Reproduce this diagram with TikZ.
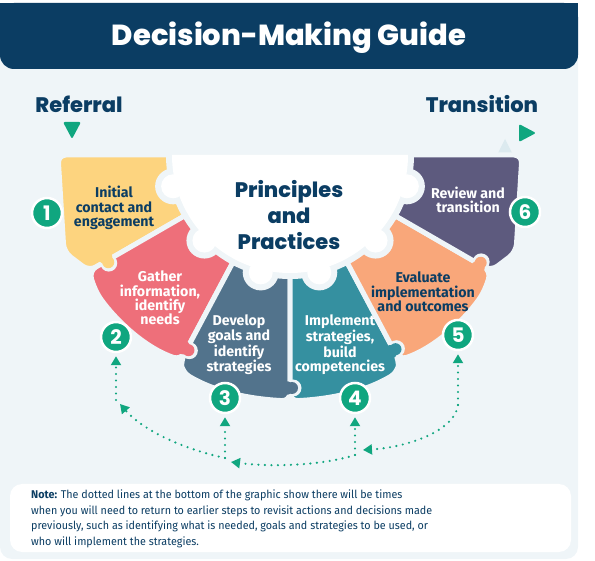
\documentclass[tikz,border=0pt]{standalone}
\usepackage{fontspec}
\setmainfont{Fira Sans}
\newfontfamily\notefont{Fira Sans}[FakeStretch=0.96]
\newfontfamily\popxb{Poppins ExtraBold}
\newfontfamily\popb{Poppins Bold}
\usetikzlibrary{arrows.meta,calc}
\definecolor{bg}{HTML}{EFF5F8}
\definecolor{hdr}{HTML}{0B3D63}
\definecolor{txtd}{HTML}{0B3D63}
\definecolor{grn}{HTML}{10A67F}
\definecolor{c1}{HTML}{FDD47F}
\definecolor{c2}{HTML}{EE6F7A}
\definecolor{c3}{HTML}{52738C}
\definecolor{c4}{HTML}{3590A0}
\definecolor{c5}{HTML}{F9A77A}
\definecolor{c6}{HTML}{5D5A7E}
\definecolor{faint}{HTML}{DCEAEF}
\begin{document}
\begin{tikzpicture}[x=1pt,y=-1pt,
  seg/.style={draw=bg, line width=5pt, rounded corners=8pt},
  lbl/.style={align=center, inner sep=0pt, font=\bfseries\fontsize{14.2}{14.4}\selectfont},
  num/.style={circle, fill=grn, draw=white, line width=2.5pt, minimum size=30pt, inner sep=0pt, text=white, font=\popb\fontsize{20}{20}\selectfont},
  dots/.style={grn, line width=2.4pt, line cap=round, dash pattern=on 0pt off 6.5pt, -{Triangle[length=9pt,width=10pt]}, shorten >=3pt}
]
\useasboundingbox (0,0) rectangle (595,561);
% panel
\fill[bg, rounded corners=12pt] (0,3) rectangle (578,559);
% header
\fill[hdr, rounded corners=14pt] (0,3) rectangle (578,69);
\fill[hdr] (0,3) rectangle (578,30);
\node[text=white, font=\popxb\fontsize{29}{29}\selectfont] (title) at (289,38) {Decision-Making Guide};
% side labels
\node[text=txtd, font=\popxb\fontsize{21}{21}\selectfont] (ref) at (79,104) {Referral};
\node[text=txtd, font=\popxb\fontsize{21}{21}\selectfont] (trans) at (482,104) {Transition};
\fill[grn, rounded corners=2pt] (63,122) -- (81,122) -- (72,139) -- cycle;
\fill[grn, rounded corners=2pt] (519,124) -- (536,133) -- (519,142) -- cycle;
\fill[faint] (497,155) -- (513,155) -- (505,139) -- cycle;
% segments
\coordinate (C) at (290,155);
\filldraw[seg, fill=c1] ($(C)+(180:100)$) -- (58,155) -- (64,252) -- (89,271) -- ($(C)+(150:100)$) -- cycle;
\filldraw[seg, fill=c2] ($(C)+(150:100)$) -- (89,271) -- (95,290) .. controls (109,312) and (140,346) .. (181,360) -- ($(C)+(118:100)$) -- cycle;
\filldraw[seg, fill=c3] ($(C)+(118:100)$) -- (181,360) -- (182,372) .. controls (215,392) and (250,399) .. (290,401) -- ($(C)+(90:100)$) -- cycle;
\filldraw[seg, fill=c4] ($(C)+(90:100)$) -- (290,401) .. controls (330,399) and (365,392) .. (398,372) -- (399,360) -- ($(C)+(62:100)$) -- cycle;
\filldraw[seg, fill=c5] ($(C)+(62:100)$) -- (399,360) .. controls (440,346) and (471,312) .. (485,290) -- (491,271) -- ($(C)+(30:100)$) -- cycle;
\filldraw[seg, fill=c6] ($(C)+(30:100)$) -- (491,271) -- (516,252) -- (522,155) -- ($(C)+(0:100)$) -- cycle;
% outer teeth of the segments
\foreach \a/\d/\col in {150/211/c1, 118/220/c2, 90/233/c3, 62/221/c4, 30/219/c5} {
  \coordinate (B) at ($(C)+(\a:\d)$);
  \fill[bg] ($(B)+({\a-90}:3)$) circle (8.5);
  \fill[\col] ($(B)+({\a+90}:4)$) circle (7);
  \fill[\col] ($(B)+({\a-90}:2)$) circle (6);
}
% gear gap
\fill[bg] ($(C)+(0:124)$) arc (0:180:124) -- cycle;
\foreach \a in {15,45,76,104,135,165} \fill[bg] ($(C)+(\a:121)$) circle (18);
% gear
\fill[white] ($(C)+(0:118)$) arc (0:180:118) -- cycle;
\foreach \a in {15,45,76,104,135,165} \fill[white] ($(C)+(\a:121)$) circle (12);
\node[text=txtd, align=center, font=\popxb\fontsize{21}{26}\selectfont] (pp) at (289,215) {Principles\\and\\Practices};
% labels
\node[lbl, text=txtd] (t1) at (114,208) {Initial\\contact and\\engagement};
\node[lbl, text=white] (t2) at (160,298) {Gather\\information,\\identify\\needs};
\node[lbl, text=white] (t3) at (239,345) {Develop\\goals and\\identify\\strategies};
\node[lbl, text=white] (t4) at (340,345) {Implement\\strategies,\\build\\competencies};
\node[lbl, text=txtd] (t5) at (423,292) {Evaluate\\implementation\\and outcomes};
\node[lbl, text=white] (t6) at (468,200) {Review and\\transition};
% numbers
\node[num] (n1) at (47,213) {1};
\node[num] (n2) at (116,337) {2};
\node[num] (n3) at (225,398) {3};
\node[num] (n4) at (355,398) {4};
\node[num] (n5) at (458,335) {5};
\node[num] (n6) at (525,212) {6};
% dotted connectors
\coordinate (j2) at (116,400);
\coordinate (j3) at (225,458);
\coordinate (j4) at (355,455);
\coordinate (j5) at (458,405);
\coordinate (e2) at (120,404);
\coordinate (e3) at (231,462);
\coordinate (e4) at (363,450);
\draw[dots] (j2) -- (n2);
\draw[dots] (j3) -- (n3);
\draw[dots] (j4) -- (n4);
\draw[dots] (j5) -- (n5);
\draw[dots, shorten >=0pt] (j3) .. controls (175,447) and (140,427) .. (e2);
\draw[dots, shorten >=0pt] (j4) .. controls (320,466) and (270,467) .. (e3);
\draw[dots, shorten >=0pt] (j5) .. controls (455,430) and (410,447) .. (e4);
% note
\fill[white, rounded corners=12pt] (10,484) rectangle (571,552);
\node[anchor=north west, align=left, inner sep=0pt, text=txtd, font=\notefont\fontsize{11.2}{15.4}\selectfont] (note) at (31,490) {\textbf{Note:} The dotted lines at the bottom of the graphic show there will be times\\when you will need to return to earlier steps to revisit actions and decisions made\\previously, such as identifying what is needed, goals and strategies to be used, or\\who will implement the strategies.};
\end{tikzpicture}
\end{document}
